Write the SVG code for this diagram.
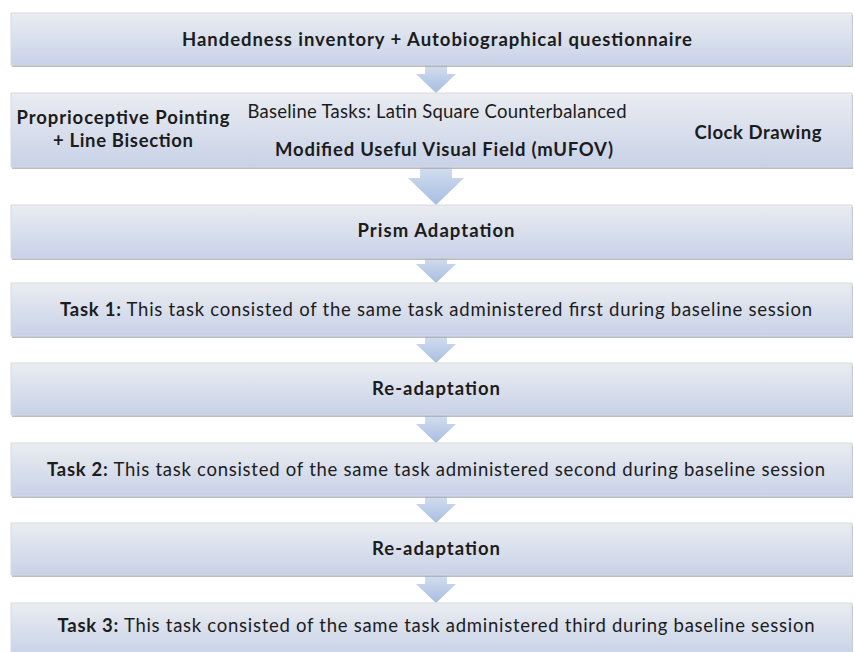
<svg xmlns="http://www.w3.org/2000/svg" width="855" height="652" viewBox="0 0 855 652">
  <defs>
    <linearGradient id="boxGrad" x1="0" y1="0" x2="0" y2="1">
      <stop offset="0" stop-color="#eaecf0"/>
      <stop offset="1" stop-color="#c8d2e8"/>
    </linearGradient>
    <linearGradient id="arrGrad" x1="0" y1="0" x2="0" y2="1">
      <stop offset="0" stop-color="#dbe4f2"/>
      <stop offset="1" stop-color="#a7bde0"/>
    </linearGradient>
  </defs>
  <style>
    .shadow { fill: #a3a8b0; opacity: 0.75; }
    .box { fill: url(#boxGrad); stroke: #d6d9df; stroke-width: 1; }
    .arrow { fill: url(#arrGrad); }
    text { font-family: Lato, "Open Sans", "Liberation Sans", sans-serif; fill: #1c1c1c; font-size: 18.5px; }
    .b { font-weight: bold; }
    .c { text-anchor: middle; }
  </style>
  <rect width="855" height="652" fill="#ffffff"/>

  <g id="connectors">
    <path class="arrow" d="M425,60 H447 V74 H456 L436,93 L416,74 H425 Z"/>
    <path class="arrow" d="M420,160 H452 V178 H464 L436,205 L408,178 H420 Z"/>
    <path class="arrow" d="M425,252 H447 V264 H456 L436,283 L416,264 H425 Z"/>
    <path class="arrow" d="M425,331 H447 V344 H456 L436,363 L416,344 H425 Z"/>
    <path class="arrow" d="M425,410 H447 V424 H456 L436,443 L416,424 H425 Z"/>
    <path class="arrow" d="M425,491 H447 V504 H456 L436,523 L416,504 H425 Z"/>
    <path class="arrow" d="M425,570 H447 V584 H456 L436,603 L416,584 H425 Z"/>
  </g>

  <g id="n1">
    <rect class="shadow" x="12" y="15" width="841" height="52"/>
    <rect class="box" x="11" y="13" width="841" height="52"/>
    <text class="b c" x="437" y="46" textLength="510">Handedness inventory + Autobiographical questionnaire</text>
  </g>

  <g id="n2">
    <rect class="shadow" x="12" y="95" width="841" height="74"/>
    <rect class="box" x="11" y="93" width="841" height="74"/>
    <text class="b c" x="123" y="124" textLength="213">Proprioceptive Pointing</text>
    <text class="b c" x="123" y="147" textLength="140">+ Line Bisection</text>
    <text class="c" x="437" y="118" font-size="17.5" textLength="379">Baseline Tasks: Latin Square Counterbalanced</text>
    <text class="b c" x="444" y="156" textLength="338">Modified Useful Visual Field (mUFOV)</text>
    <text class="b c" x="758" y="139" textLength="127">Clock Drawing</text>
  </g>

  <g id="n3">
    <rect class="shadow" x="12" y="207" width="841" height="53"/>
    <rect class="box" x="11" y="205" width="841" height="53"/>
    <text class="b c" x="436" y="237" textLength="157">Prism Adaptation</text>
  </g>

  <g id="n4">
    <rect class="shadow" x="12" y="285" width="841" height="53"/>
    <rect class="box" x="11" y="283" width="841" height="53"/>
    <text class="c" x="436" y="316" textLength="752"><tspan class="b">Task 1:</tspan> This task consisted of the same task administered first during baseline session</text>
  </g>

  <g id="n5">
    <rect class="shadow" x="12" y="365" width="841" height="52"/>
    <rect class="box" x="11" y="363" width="841" height="52"/>
    <text class="b c" x="436" y="395" textLength="128">Re-adaptation</text>
  </g>

  <g id="n6">
    <rect class="shadow" x="12" y="445" width="841" height="53"/>
    <rect class="box" x="11" y="443" width="841" height="53"/>
    <text class="c" x="436" y="476" textLength="778"><tspan class="b">Task 2:</tspan> This task consisted of the same task administered second during baseline session</text>
  </g>

  <g id="n7">
    <rect class="shadow" x="12" y="525" width="841" height="52"/>
    <rect class="box" x="11" y="523" width="841" height="52"/>
    <text class="b c" x="436" y="555" textLength="128">Re-adaptation</text>
  </g>

  <g id="n8">
    <rect class="shadow" x="12" y="605" width="841" height="53"/>
    <rect class="box" x="11" y="603" width="841" height="53"/>
    <text class="c" x="436" y="632" textLength="757"><tspan class="b">Task 3:</tspan> This task consisted of the same task administered third during baseline session</text>
  </g>
</svg>
